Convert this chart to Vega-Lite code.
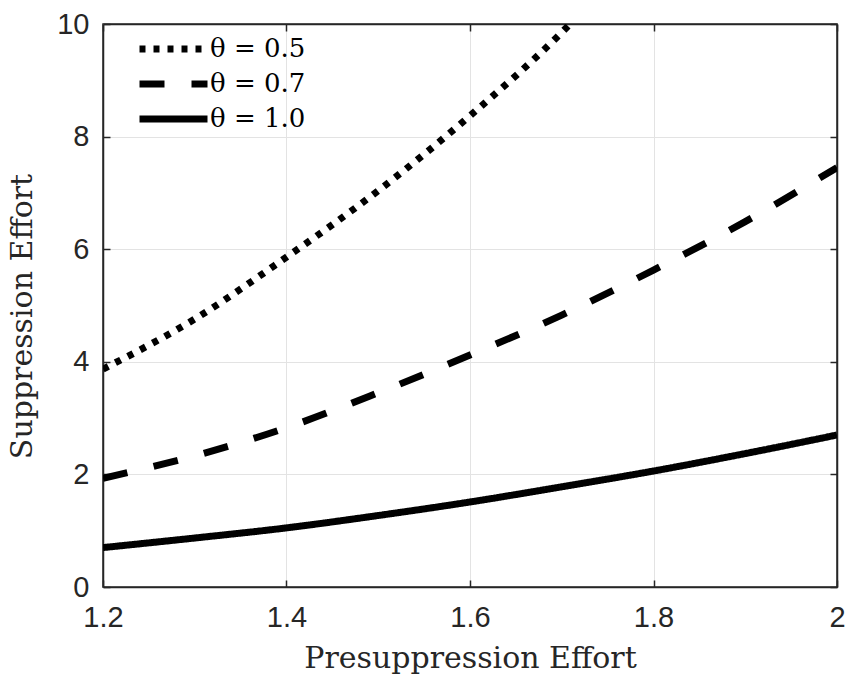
{
  "$schema": "https://vega.github.io/schema/vega-lite/v6.json",
  "width": 734,
  "height": 563,
  "autosize": {"type": "none"},
  "padding": {"left": 103, "top": 24, "right": 11, "bottom": 92},
  "background": "white",
  "config": {
    "view": {"stroke": "#262626", "strokeWidth": 1.5},
    "axis": {
      "domainColor": "#262626",
      "domainWidth": 1.5,
      "tickColor": "#262626",
      "tickWidth": 1.5,
      "tickSize": -7,
      "labelColor": "#262626",
      "labelFont": "Liberation Sans",
      "labelFontSize": 29,
      "labelFlush": false,
      "gridColor": "#e3e3e3",
      "gridWidth": 1,
      "titleFont": "DejaVu Serif",
      "titleFontSize": 30,
      "titleFontWeight": "normal",
      "titleColor": "#262626"
    }
  },
  "data": {
    "values": [
      {"p": 1.2, "s": 3.87, "series": "θ = 0.5"},
      {"p": 1.3, "s": 4.76, "series": "θ = 0.5"},
      {"p": 1.4, "s": 5.86, "series": "θ = 0.5"},
      {"p": 1.5, "s": 7.04, "series": "θ = 0.5"},
      {"p": 1.6, "s": 8.37, "series": "θ = 0.5"},
      {"p": 1.7, "s": 9.85, "series": "θ = 0.5"},
      {"p": 1.75, "s": 10.7, "series": "θ = 0.5"},
      {"p": 1.2, "s": 1.93, "series": "θ = 0.7"},
      {"p": 1.3, "s": 2.33, "series": "θ = 0.7"},
      {"p": 1.4, "s": 2.83, "series": "θ = 0.7"},
      {"p": 1.5, "s": 3.45, "series": "θ = 0.7"},
      {"p": 1.6, "s": 4.12, "series": "θ = 0.7"},
      {"p": 1.7, "s": 4.83, "series": "θ = 0.7"},
      {"p": 1.8, "s": 5.63, "series": "θ = 0.7"},
      {"p": 1.9, "s": 6.49, "series": "θ = 0.7"},
      {"p": 2.0, "s": 7.45, "series": "θ = 0.7"},
      {"p": 1.2, "s": 0.70, "series": "θ = 1.0"},
      {"p": 1.3, "s": 0.87, "series": "θ = 1.0"},
      {"p": 1.4, "s": 1.05, "series": "θ = 1.0"},
      {"p": 1.5, "s": 1.27, "series": "θ = 1.0"},
      {"p": 1.6, "s": 1.51, "series": "θ = 1.0"},
      {"p": 1.7, "s": 1.78, "series": "θ = 1.0"},
      {"p": 1.8, "s": 2.06, "series": "θ = 1.0"},
      {"p": 1.9, "s": 2.37, "series": "θ = 1.0"},
      {"p": 2.0, "s": 2.70, "series": "θ = 1.0"}
    ]
  },
  "layer": [
    {
      "mark": {"type": "line", "strokeWidth": 7, "strokeCap": "butt", "clip": true, "interpolate": "monotone", "color": "black"},
      "encoding": {
        "x": {
          "field": "p", "type": "quantitative",
          "scale": {"domain": [1.2, 2], "nice": false, "zero": false},
          "axis": {"values": [1.2, 1.4, 1.6, 1.8, 2], "format": "~g", "grid": true, "labelPadding": 23, "title": "Presuppression Effort", "titleX": 367, "titleY": 80, "titleBaseline": "alphabetic", "titleAnchor": "middle", "titleAlign": "center"}
        },
        "y": {
          "field": "s", "type": "quantitative",
          "scale": {"domain": [0, 10], "nice": false},
          "axis": {"values": [0, 2, 4, 6, 8, 10], "grid": true, "labelPadding": 21, "title": "Suppression Effort", "titleX": -72, "titleY": 292, "titleAngle": -90, "titleBaseline": "alphabetic", "titleAlign": "center"}
        },
        "strokeDash": {
          "field": "series", "type": "nominal",
          "scale": {"domain": ["θ = 0.5", "θ = 0.7", "θ = 1.0"], "range": [[6, 8], [25, 27], [1, 0]]},
          "legend": {
            "title": null, "orient": "none", "legendX": 33, "legendY": 7.5, "padding": 0,
            "symbolType": "stroke", "symbolSize": 4624, "symbolStrokeWidth": 7, "symbolStrokeColor": "black",
            "labelFont": "DejaVu Serif", "labelFontSize": 26, "labelColor": "black", "labelOffset": -1,
            "clipHeight": 35, "rowPadding": 0
          }
        }
      }
    },
    {
      "mark": {"type": "line", "opacity": 0, "clip": true},
      "encoding": {
        "x": {"field": "p", "type": "quantitative", "axis": {"orient": "top", "values": [1.2, 1.4, 1.6, 1.8, 2], "labels": false, "grid": false, "title": null}},
        "y": {"field": "s", "type": "quantitative", "axis": {"orient": "right", "values": [0, 2, 4, 6, 8, 10], "labels": false, "grid": false, "title": null}},
        "detail": {"field": "series", "type": "nominal"}
      }
    }
  ],
  "resolve": {"axis": {"x": "independent", "y": "independent"}}
}
